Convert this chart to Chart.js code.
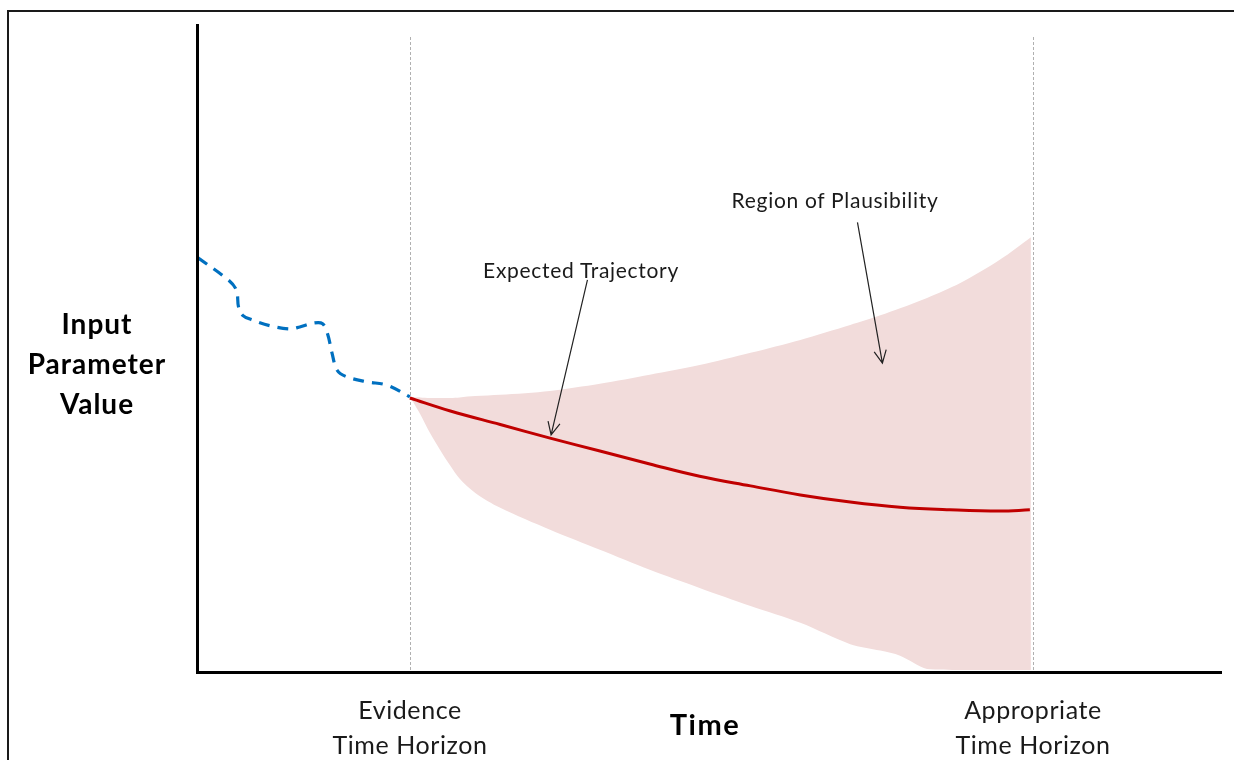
<!DOCTYPE html>
<html><head><meta charset="utf-8">
<script src="https://cdn.jsdelivr.net/npm/chart.js@4.4.1/dist/chart.umd.min.js"></script>
<style>
html,body{margin:0;padding:0;background:#fff;overflow:hidden}
#wrap{position:relative;width:1234px;height:760px;overflow:hidden}
#frame{position:absolute;left:7px;top:10px;width:1260px;height:800px;border-left:2px solid #1a1a1a;border-top:2px solid #1a1a1a}
canvas{position:absolute;left:0;top:0}
.lbl{position:absolute;font-family:Lato,'Open Sans',sans-serif;color:#1a1a1a;text-align:center;white-space:nowrap;transform:translateX(-50%)}
.b{font-weight:bold;color:#000}
</style></head>
<body>
<div id="wrap">
<div id="frame"></div>
<canvas id="c" width="1234" height="760"></canvas>
<div class="lbl b" style="left:97px;top:303px;font-size:28px;line-height:40px;letter-spacing:1px">Input<br>Parameter<br>Value</div>
<div class="lbl" style="left:410px;top:692px;font-size:25px;line-height:35px;letter-spacing:0.6px">Evidence<br>Time Horizon</div>
<div class="lbl b" style="left:705px;top:709px;font-size:29px;line-height:30px;letter-spacing:1.5px">Time</div>
<div class="lbl" style="left:1033px;top:692px;font-size:25px;line-height:35px;letter-spacing:0.6px">Appropriate<br>Time Horizon</div>
<div class="lbl" style="left:581px;top:258px;font-size:21px;line-height:24px;letter-spacing:0.7px">Expected Trajectory</div>
<div class="lbl" style="left:835px;top:188px;font-size:21px;line-height:24px;letter-spacing:0.7px">Region of Plausibility</div>
</div>
<script>
// Time axis: evidence horizon at t=2, appropriate horizon at t=8
const horizons = [2, 8];

// Observed history (dashed blue)
const histT = [-0.04, 0.25, 0.33, 0.35, 0.39, 0.48, 0.65, 0.84, 0.94, 1.07, 1.16, 1.21, 1.25, 1.30, 1.39, 1.59, 1.78, 2.00];
const histV = [63.8, 60.4, 58.8, 56.2, 54.9, 54.2, 53.3, 52.8, 53.1, 53.7, 53.6, 51.9, 49.1, 46.4, 45.4, 44.6, 44.1, 42.3];

// Expected trajectory (red)
const trajT = [2.00, 2.39, 2.87, 3.35, 3.83, 4.31, 4.79, 5.28, 5.76, 6.24, 6.72, 7.20, 7.68, 7.97];
const trajV = [42.1, 40.1, 38.0, 35.9, 33.9, 31.9, 30.0, 28.5, 27.1, 26.0, 25.2, 24.8, 24.6, 24.8];

// Region of plausibility (band)
const bandT     = [2.00, 2.05, 2.10, 2.19, 2.29, 2.39, 2.48, 2.63, 2.87, 3.35, 3.83, 4.31, 4.79, 5.28, 5.76, 6.24, 6.53, 6.72, 6.98, 7.30, 7.68, 7.98];
const bandUpper = [42.3, 42.2, 42.2, 42.1, 42.1, 42.1, 42.2, 42.4, 42.6, 43.2, 44.3, 45.7, 47.2, 49.1, 51.1, 53.4, 54.9, 56.0, 57.6, 59.9, 63.5, 67.0];
const bandLower = [42.3, 41.0, 39.6, 36.8, 34.1, 31.6, 29.6, 27.4, 25.1, 21.7, 18.6, 15.5, 12.7, 9.9, 7.3, 4.0, 3.0, 2.2, 0.15, 0, 0, 0];

// Annotation arrows [fromT, fromV, toT, toV]
const arrowTrajectory = [3.71, 60.4, 3.36, 36.4];
const arrowRegion = [6.31, 69.3, 6.55, 47.5];

const pts = (t, v) => t.map((x, i) => ({x: x, y: v[i]}));

const decor = {
  id: 'decor',
  beforeDatasetsDraw(chart) {
    const {ctx, chartArea, scales} = chart;
    ctx.save();
    ctx.strokeStyle = '#b0b0b0';
    ctx.lineWidth = 1;
    ctx.setLineDash([3, 2]);
    horizons.forEach(h => {
      const x = Math.round(scales.x.getPixelForValue(h)) + 0.5;
      ctx.beginPath();
      ctx.moveTo(x, chartArea.top + 13);
      ctx.lineTo(x, chartArea.bottom);
      ctx.stroke();
    });
    ctx.restore();
  },
  afterDatasetsDraw(chart) {
    const {ctx, chartArea, scales} = chart;
    ctx.save();
    ctx.strokeStyle = '#000';
    ctx.lineWidth = 3;
    ctx.beginPath();
    ctx.moveTo(chartArea.left - 0.5, chartArea.top);
    ctx.lineTo(chartArea.left - 0.5, chartArea.bottom + 2.5);
    ctx.lineTo(chartArea.right, chartArea.bottom + 2.5);
    ctx.stroke();
    ctx.strokeStyle = '#222';
    ctx.lineWidth = 1.2;
    [arrowTrajectory, arrowRegion].forEach(a => {
      const x1 = scales.x.getPixelForValue(a[0]), y1 = scales.y.getPixelForValue(a[1]);
      const x2 = scales.x.getPixelForValue(a[2]), y2 = scales.y.getPixelForValue(a[3]);
      const ang = Math.atan2(y2 - y1, x2 - x1);
      const L = 14, w = 0.45;
      ctx.beginPath();
      ctx.moveTo(x1, y1); ctx.lineTo(x2, y2);
      ctx.moveTo(x2 - L * Math.cos(ang - w), y2 - L * Math.sin(ang - w));
      ctx.lineTo(x2, y2);
      ctx.lineTo(x2 - L * Math.cos(ang + w), y2 - L * Math.sin(ang + w));
      ctx.stroke();
    });
    ctx.restore();
  }
};

new Chart(document.getElementById('c'), {
  type: 'line',
  data: {
    datasets: [
      {label: 'History', data: pts(histT, histV), borderColor: '#0070C0', borderWidth: 3.2, borderDash: [11, 8], pointRadius: 0, tension: 0.35, fill: false},
      {label: 'Expected Trajectory', data: pts(trajT, trajV), borderColor: '#C00000', borderWidth: 3, pointRadius: 0, tension: 0.4, fill: false},
      {label: 'Upper', data: pts(bandT, bandUpper), borderWidth: 0, borderColor: 'rgba(0,0,0,0)', backgroundColor: '#F2DCDB', fill: '+1', pointRadius: 0, tension: 0.3},
      {label: 'Lower', data: pts(bandT, bandLower), borderWidth: 0, borderColor: 'rgba(0,0,0,0)', pointRadius: 0, fill: false, tension: 0.3}
    ]
  },
  options: {
    responsive: false,
    animation: false,
    layout: {padding: {left: 198, right: 12, top: 24, bottom: 90}},
    scales: {
      x: {type: 'linear', min: -0.04, max: 9.82, display: false},
      y: {min: 0, max: 100, display: false}
    },
    plugins: {legend: {display: false}, tooltip: {enabled: false}}
  },
  plugins: [decor]
});
</script>
</body></html>
